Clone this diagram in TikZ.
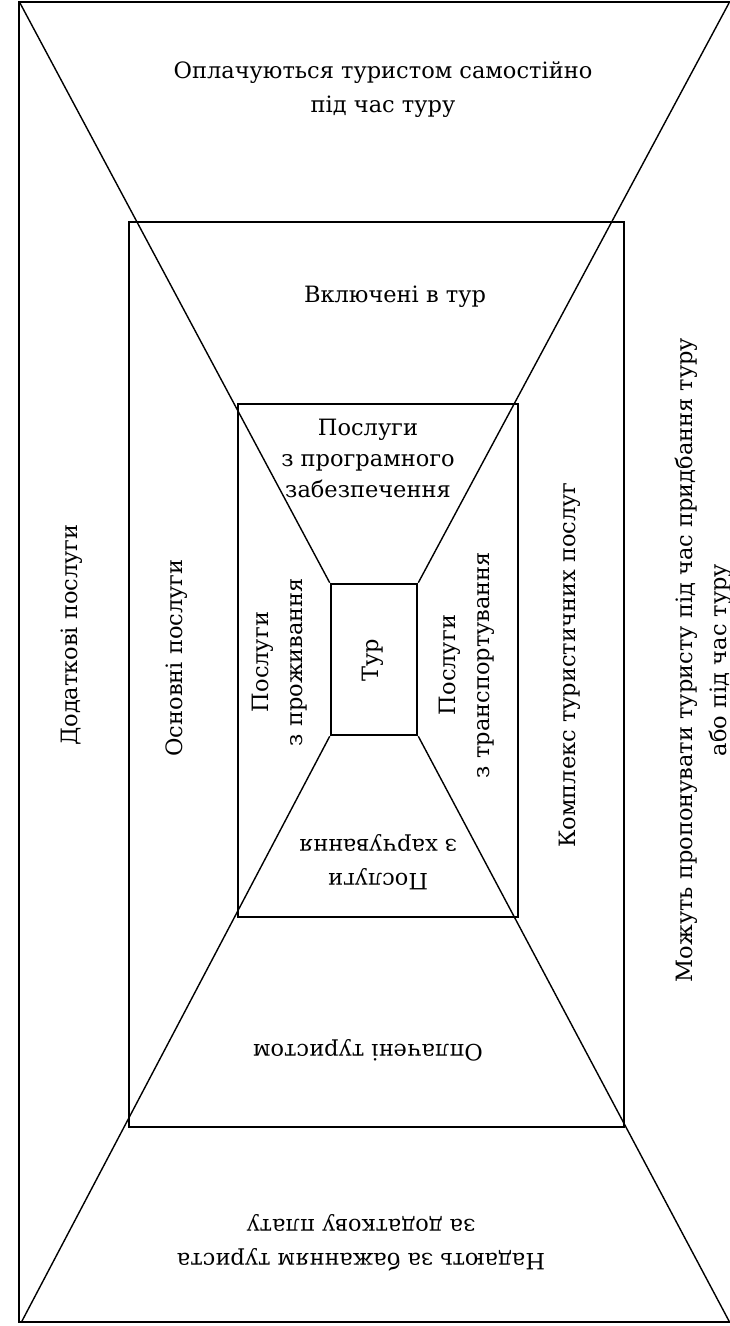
\documentclass[tikz,border=0pt]{standalone}
\usepackage{fontspec}
\setmainfont{DejaVu Serif}
\begin{document}
\begin{tikzpicture}[x=1pt,y=-1pt,
  frame/.style={draw, line width=2.6pt},
  diag/.style={draw, line width=1.4pt},
  lbl/.style={font=\fontsize{22.5}{34}\selectfont, align=center, inner sep=0pt},
  lbltight/.style={font=\fontsize{22.5}{31}\selectfont, align=center, inner sep=0pt}]
\useasboundingbox (0,0) rectangle (729,1326);
% corners of the outer frame
\coordinate (o1) at (20,3);
\coordinate (o2) at (729,3);
\coordinate (o3) at (729,1321);
\coordinate (o4) at (22,1321);
% rectangles as nodes
\node[frame, minimum width=495pt, minimum height=905pt, inner sep=0pt] (mid) at (376.5,674.5) {};
\node[frame, minimum width=280pt, minimum height=513pt, inner sep=0pt] (inner) at (378,660.5) {};
\node[frame, minimum width=86pt, minimum height=151pt, inner sep=0pt] (core) at (374,659.5) {};
% diagonals
\draw[diag] (o1) -- (core.north west);
\draw[diag] (o2) -- (core.north east);
\draw[diag] (o4) -- (core.south west);
\draw[diag] (o3) -- (core.south east);
% frames on top
\draw[frame] (19,2) rectangle (731,1322);
\node[frame, minimum width=495pt, minimum height=905pt, inner sep=0pt] at (mid) {};
\node[frame, minimum width=280pt, minimum height=513pt, inner sep=0pt] at (inner) {};
\node[frame, minimum width=86pt, minimum height=151pt, inner sep=0pt, fill=white] at (core) {};
% labels
\node[lbl] (top) at (383,90) {Оплачуються туристом самостійно\\під час туру};
\node[lbl] (incl) at (395,297) {Включені в тур};
\node[lbltight] (prog) at (368,458) {Послуги\\з програмного\\забезпечення};
\node[lbl, rotate=90] (dod) at (72,635) {Додаткові послуги};
\node[lbl, rotate=90] (osn) at (177,658) {Основні послуги};
\node[lbl, rotate=90] (prozh) at (280,662) {Послуги\\з проживання};
\node[lbl, rotate=90] (tur) at (373,660) {Тур};
\node[lbl, rotate=90] (transp) at (467,665) {Послуги\\з транспортування};
\node[lbl, rotate=90] (kompl) at (570,665) {Комплекс туристичних послуг};
\node[lbl, rotate=90] (mozh) at (703,660) {Можуть пропонувати туристу під час придбання туру\\або під час туру};
\node[lbl, rotate=180] (harch) at (378,862) {Послуги\\з харчування};
\node[lbl, rotate=180] (opl) at (368,1050) {Оплачені туристом};
\node[lbl, rotate=180] (nad) at (361,1243) {Надають за бажанням туриста\\за додаткову плату};
\end{tikzpicture}
\end{document}
